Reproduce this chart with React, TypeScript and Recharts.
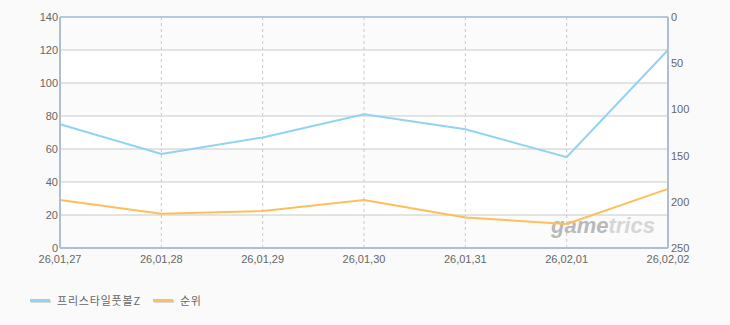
import { CartesianGrid, Customized, Line, LineChart, ReferenceLine, XAxis, YAxis } from "recharts";

const DATES = ["26,01,27", "26,01,28", "26,01,29", "26,01,30", "26,01,31", "26,02,01", "26,02,02"];
const PLAYERS = [75, 57, 67, 81, 72, 55, 120];
const RANK = [198, 213, 210, 198, 217, 224, 186];
const LEFT_TICKS = [0, 20, 40, 60, 80, 100, 120, 140];
const RIGHT_TICKS = [0, 50, 100, 150, 200, 250];

const BLUE = "#92d2f2";
const ORANGE = "#ffbe5c";
const FRAME = "#aebfd3";
const LABEL = "#666666";
const TICK = { fontSize: 11, fill: LABEL, fontFamily: "'Liberation Sans', Arial, sans-serif" };

const rows = DATES.map((date, i) => ({ date, players: PLAYERS[i], rank: RANK[i] }));

function Watermark() {
  return (
    <text x={551} y={233} fontSize={22} fontWeight="bold" fontStyle="italic" fontFamily="'Liberation Sans', Arial, sans-serif">
      <tspan fill="#b9b9b9">game</tspan>
      <tspan fill="#d6d6d6">trics</tspan>
    </text>
  );
}

function LegendItem({ color, label }: { color: string; label: string }) {
  return (
    <div style={{ display: "flex", alignItems: "center", marginRight: 12 }}>
      <div style={{ width: 20, height: 3, background: color, boxShadow: "1px 1px 0 #d8d8d8", marginRight: 7 }} />
      <span style={{ letterSpacing: 0.8 }}>{label}</span>
    </div>
  );
}

export default function App() {
  return (
    <div style={{ position: "absolute", left: 0, top: 0, width: 730, height: 325, background: "#fafafa" }}>
      <LineChart width={730} height={325} data={rows} margin={{ top: 17, right: 0, bottom: 57, left: 0 }}>
        <CartesianGrid yAxisId="left" vertical={false} stroke="#c9c9c9" horizontalFill={["#fbfbfb", "#ffffff"]} />
        <CartesianGrid yAxisId="left" horizontal={false} stroke="#c9c9c9" strokeDasharray="3 3" />
        <XAxis
          dataKey="date"
          stroke={LABEL}
          tick={TICK}
          tickSize={0}
          tickMargin={7}
          height={20}
          interval={0}
          axisLine={{ stroke: FRAME, strokeWidth: 2 }}
        />
        <YAxis
          yAxisId="left"
          domain={[0, 140]}
          ticks={LEFT_TICKS}
          stroke={LABEL}
          tick={TICK}
          tickSize={0}
          tickMargin={2}
          width={60}
          axisLine={{ stroke: FRAME, strokeWidth: 2 }}
        />
        <YAxis
          yAxisId="right"
          orientation="right"
          domain={[0, 250]}
          reversed
          ticks={RIGHT_TICKS}
          stroke={LABEL}
          tick={{ ...TICK, textAnchor: "start" }}
          tickSize={0}
          tickMargin={3}
          width={62}
          axisLine={{ stroke: FRAME, strokeWidth: 2 }}
        />
        <ReferenceLine yAxisId="left" y={140} stroke="#b9c9dc" strokeWidth={2} />
        <Customized component={<Watermark />} />
        <Line yAxisId="left" dataKey="players" stroke={BLUE} strokeWidth={2} dot={false} isAnimationActive={false} />
        <Line yAxisId="right" dataKey="rank" stroke={ORANGE} strokeWidth={2} dot={false} isAnimationActive={false} />
      </LineChart>
      <div
        style={{
          position: "absolute",
          left: 30,
          top: 292,
          display: "flex",
          fontSize: 11,
          color: LABEL,
          fontFamily: "'Noto Sans CJK KR', sans-serif",
        }}
      >
        <LegendItem color={BLUE} label="프리스타일풋볼Z" />
        <LegendItem color={ORANGE} label="순위" />
      </div>
    </div>
  );
}
